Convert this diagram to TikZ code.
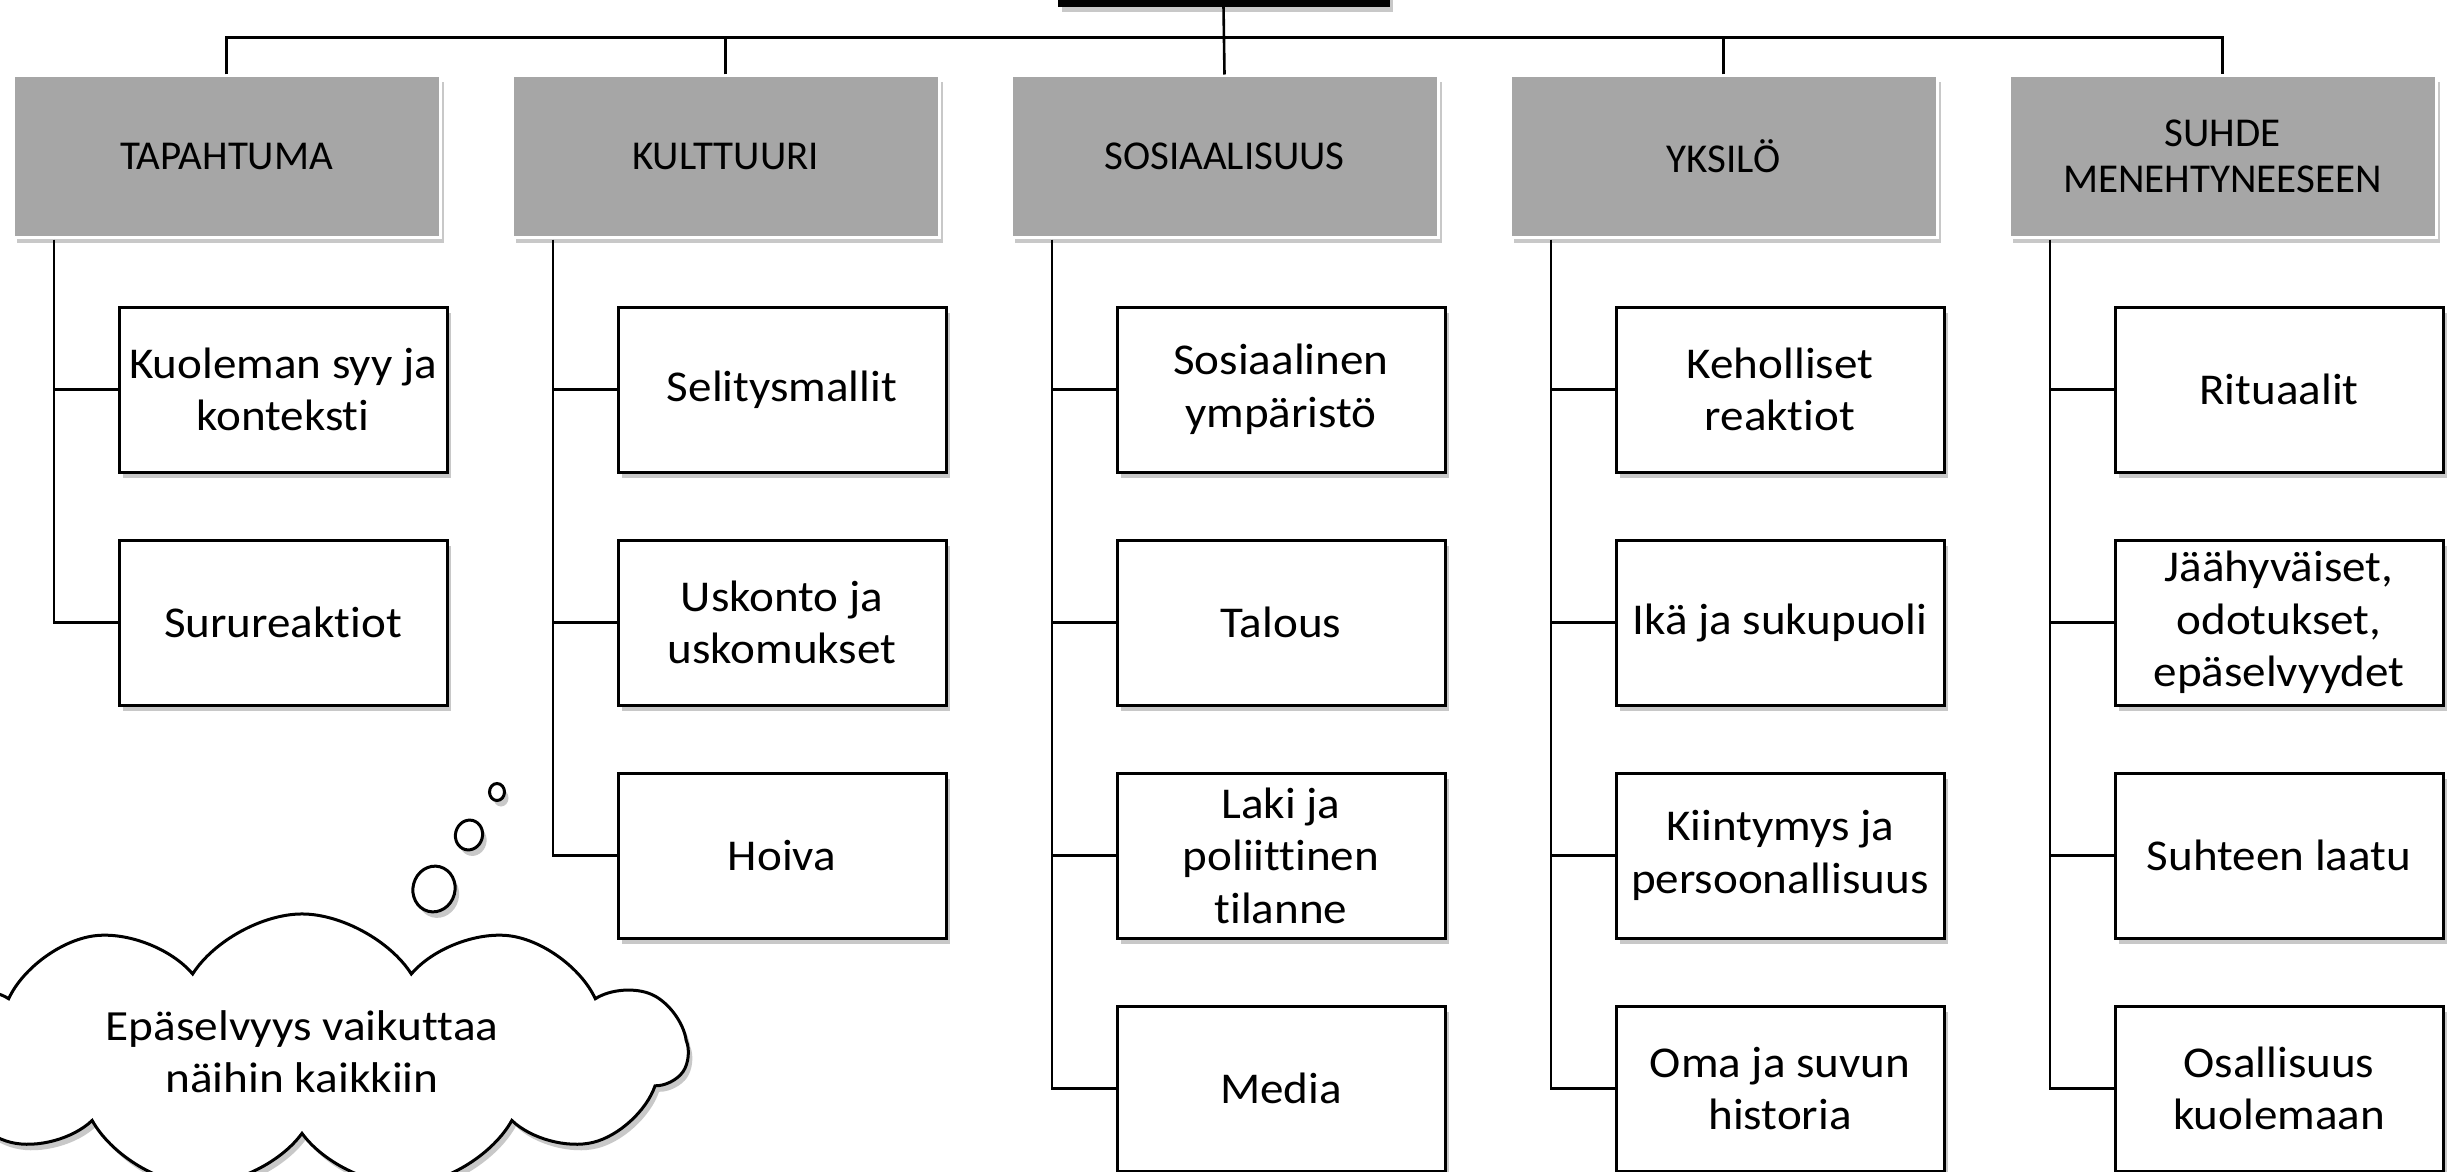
\documentclass[tikz,border=0pt]{standalone}
\usepackage{fontspec}
\setmainfont[Ligatures=NoCommon]{Carlito}
\newfontfamily\childfont[FakeStretch=1.07,Ligatures=NoCommon]{Carlito}
\newfontfamily\cloudfont[FakeStretch=1.1,Ligatures=NoCommon]{Carlito}
\usetikzlibrary{shadows,shapes.symbols,shapes.geometric}
\definecolor{hdrgray}{HTML}{A6A6A6}
\begin{document}
\begin{tikzpicture}[x=1pt,y=-1pt,
  softshadow/.style={drop shadow={shadow xshift=4pt,shadow yshift=-6pt,opacity=0.3,fill=black!70}},
  hdrbox/.style={draw=white,line width=3pt,fill=hdrgray,minimum width=427pt,minimum height=161pt,
    inner sep=0pt,align=center,font=\fontsize{41}{46}\selectfont,softshadow},
  childbox/.style={draw=black,line width=3pt,fill=white,minimum width=328pt,minimum height=165pt,
    inner sep=0pt,align=center,font=\childfont\fontsize{44}{52.5}\selectfont,softshadow},
  topbox/.style={draw=black,fill=black,minimum width=331pt,minimum height=172pt,inner sep=0pt,softshadow},
  conn/.style={line width=2.6pt},
  bubble/.style={draw=black,line width=3pt,fill=white,ellipse,inner sep=0pt,softshadow},
  thought/.style={cloud,cloud puffs=11,cloud puff arc=115,aspect=2.8,draw=black,line width=3pt,fill=white,
    minimum width=770pt,minimum height=262pt,inner sep=0pt,align=center,
    font=\cloudfont\fontsize{43}{52}\selectfont,softshadow}]
\useasboundingbox (0,0) rectangle (2450,1172);
\fill[white] (0,0) rectangle (2450,1172);

% top box (cut off)
\node[topbox] (top) at (1223.5,-80) {};

% headers
\node[hdrbox] (h0) at (226.5,156.5) {TAPAHTUMA};
\node[hdrbox] (h1) at (725.5,156.5) {KULTTUURI};
\node[hdrbox] (h2) at (1224.5,156.5) {SOSIAALISUUS};
\node[hdrbox] (h3) at (1723.5,156.5) {YKSILÖ};
\node[hdrbox] (h4) at (2222.5,156.5) {SUHDE\\MENEHTYNEESEEN};

% connectors from top
\draw[conn] (top.south) -- (h2.north);
\draw[conn] (h0.north) -- ++(0,-37) -| (h4.north);
\draw[conn] (h1.north) -- ++(0,-37);
\draw[conn] (h3.north) -- ++(0,-37);

% children column 0
\node[childbox] (c00) at (283,389.5) {Kuoleman syy ja\\konteksti};
\node[childbox] (c01) at (283,622.5) {Surureaktiot};
% column 1
\node[childbox] (c10) at (782,389.5) {Selitysmallit};
\node[childbox] (c11) at (782,622.5) {Uskonto ja\\uskomukset};
\node[childbox] (c12) at (782,855.5) {Hoiva};
% column 2
\node[childbox] (c20) at (1281,389.5) {Sosiaalinen\\ympäristö};
\node[childbox] (c21) at (1281,622.5) {Talous};
\node[childbox] (c22) at (1281,855.5) {Laki ja\\poliittinen\\tilanne};
\node[childbox] (c23) at (1281,1088.5) {Media};
% column 3
\node[childbox] (c30) at (1780,389.5) {Keholliset\\reaktiot};
\node[childbox] (c31) at (1780,622.5) {Ikä ja sukupuoli};
\node[childbox] (c32) at (1780,855.5) {Kiintymys ja\\persoonallisuus};
\node[childbox] (c33) at (1780,1088.5) {Oma ja suvun\\historia};
% column 4
\node[childbox] (c40) at (2279,389.5) {Rituaalit};
\node[childbox] (c41) at (2279,622.5) {Jäähyväiset,\\odotukset,\\epäselvyydet};
\node[childbox] (c42) at (2279,855.5) {Suhteen laatu};
\node[childbox] (c43) at (2279,1088.5) {Osallisuus\\kuolemaan};

% trunks
\coordinate (t0) at ([xshift=-172.5pt,yshift=-1pt]h0.south);
\coordinate (t1) at ([xshift=-172.5pt,yshift=-1pt]h1.south);
\coordinate (t2) at ([xshift=-172.5pt,yshift=-1pt]h2.south);
\coordinate (t3) at ([xshift=-172.5pt,yshift=-1pt]h3.south);
\coordinate (t4) at ([xshift=-172.5pt,yshift=-1pt]h4.south);

\draw[conn] (t0) |- (c01.west);
\draw[conn] (c00.west) -- (c00.west -| t0);

\draw[conn] (t1) |- (c12.west);
\draw[conn] (c10.west) -- (c10.west -| t1);
\draw[conn] (c11.west) -- (c11.west -| t1);

\draw[conn] (t2) |- (c23.west);
\draw[conn] (c20.west) -- (c20.west -| t2);
\draw[conn] (c21.west) -- (c21.west -| t2);
\draw[conn] (c22.west) -- (c22.west -| t2);

\draw[conn] (t3) |- (c33.west);
\draw[conn] (c30.west) -- (c30.west -| t3);
\draw[conn] (c31.west) -- (c31.west -| t3);
\draw[conn] (c32.west) -- (c32.west -| t3);

\draw[conn] (t4) |- (c43.west);
\draw[conn] (c40.west) -- (c40.west -| t4);
\draw[conn] (c41.west) -- (c41.west -| t4);
\draw[conn] (c42.west) -- (c42.west -| t4);

% thought bubbles and cloud
\node[bubble,minimum width=15pt,minimum height=17pt] (b1) at (497,792) {};
\node[bubble,minimum width=27pt,minimum height=30pt,rotate=-15] (b2) at (469,835) {};
\node[bubble,minimum width=42pt,minimum height=46pt,rotate=-15] (b3) at (434,889) {};
\node[thought] (cl) at (302,1052) {Epäselvyys vaikuttaa\\näihin kaikkiin};
\end{tikzpicture}
\end{document}
